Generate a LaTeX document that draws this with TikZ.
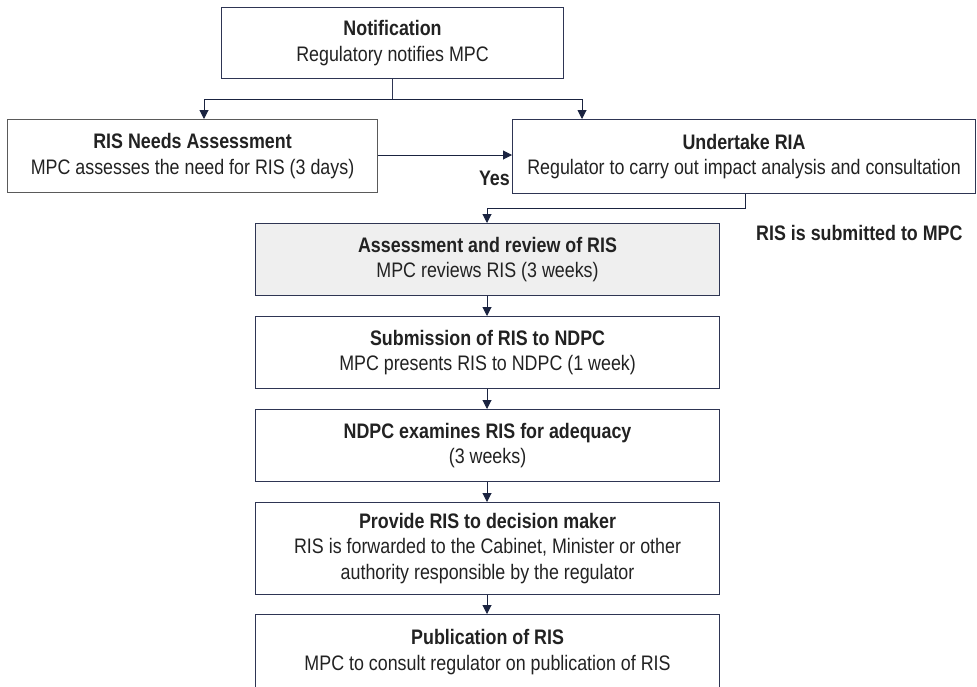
\documentclass[tikz,border=0pt]{standalone}
\usepackage{fontspec}
\setmainfont{Liberation Sans}[FakeStretch=0.85]
\usetikzlibrary{arrows.meta}
\definecolor{edge}{HTML}{2E3553}
\definecolor{edgegray}{HTML}{5A5A5A}
\definecolor{arr}{HTML}{1A2340}
\definecolor{txt}{HTML}{222222}
\definecolor{shade}{HTML}{EFEFEF}
\begin{document}
\begin{tikzpicture}[x=1pt,y=1pt,
  box/.style={draw=edge, line width=1.1pt, fill=white, anchor=north west, inner sep=0pt,
    align=center, text=txt, font=\fontsize{21}{25.5}\selectfont},
  conn/.style={draw=edge, line width=1pt},
  arrowc/.style={conn, -{Triangle[length=9pt,width=9pt]}, arr},
  lbl/.style={text=txt, font=\fontsize{21}{25.5}\selectfont\bfseries, inner sep=0pt}]
\useasboundingbox (0,0) rectangle (977,-686);
\node[box, minimum width=342, minimum height=71] (notif) at (221,-7)
  {\textbf{Notification}\\Regulatory notifies MPC};
\node[box, draw=edgegray, minimum width=370, minimum height=73] (needs) at (7,-119)
  {\textbf{RIS Needs Assessment}\\MPC assesses the need for RIS (3 days)};
\node[box, minimum width=463, minimum height=74] (ria) at (512,-119)
  {\textbf{Undertake RIA}\\Regulator to carry out impact analysis and consultation};
\node[box, fill=shade, minimum width=464, minimum height=72] (assess) at (255,-223)
  {\textbf{Assessment and review of RIS}\\MPC reviews RIS (3 weeks)};
\node[box, minimum width=464, minimum height=72] (submit) at (255,-316)
  {\textbf{Submission of RIS to NDPC}\\MPC presents RIS to NDPC (1 week)};
\node[box, minimum width=464, minimum height=72] (ndpc) at (255,-409)
  {\textbf{NDPC examines RIS for adequacy}\\(3 weeks)};
\node[box, minimum width=464, minimum height=92] (provide) at (255,-502)
  {\textbf{Provide RIS to decision maker}\\RIS is forwarded to the Cabinet, Minister or other\\authority responsible by the regulator};
\node[box, minimum width=464, minimum height=75] (publ) at (255,-614)
  {\textbf{Publication of RIS}\\MPC to consult regulator on publication of RIS};
\node[lbl, anchor=east] (yes) at (510,-178) {Yes};
\node[lbl, anchor=west] (sub) at (756,-233) {RIS is submitted to MPC};
\coordinate (split) at (392,-99);
\draw[conn] (notif.south -| split) -- (split);
\draw[arrowc] (split) -| (needs.north -| 204,0);
\draw[arrowc] (split) -| (ria.north -| 582,0);
\draw[arrowc] (needs.east |- 0,-155) -- (ria.west |- 0,-155);
\coordinate (bend) at (745,-208);
\draw[arrowc] (ria.south -| bend) -- (bend) -| (assess.north -| 487,0);
\draw[arrowc] (assess.south -| 487,0) -- (submit.north -| 487,0);
\draw[arrowc] (submit.south -| 487,0) -- (ndpc.north -| 487,0);
\draw[arrowc] (ndpc.south -| 487,0) -- (provide.north -| 487,0);
\draw[arrowc] (provide.south -| 487,0) -- (publ.north -| 487,0);
\end{tikzpicture}
\end{document}
